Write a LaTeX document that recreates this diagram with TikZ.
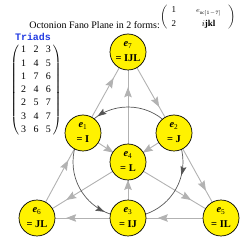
\documentclass[tikz,border=0pt]{standalone}
\usepackage{fontspec}
\setmainfont{Liberation Serif}
\setmonofont{Liberation Mono}
\usetikzlibrary{arrows.meta,decorations.markings,backgrounds}
\definecolor{edgegray}{RGB}{178,178,178}
\definecolor{ringgray}{RGB}{85,85,85}
\definecolor{triadblue}{RGB}{35,60,225}

\begin{document}
\begin{tikzpicture}[x=1bp,y=1bp,
  unit/.style={circle, draw=black, line width=0.7pt, fill=yellow,
    minimum size=36bp, inner sep=0pt, align=center,
    font=\bfseries\fontsize{10.5}{15}\selectfont},
  edge/.style={draw=edgegray, line width=0.9pt, postaction={decorate},
    decoration={markings, mark=at position 0.68 with
      {\arrow{Stealth[length=10bp,width=7.5bp,inset=1.5bp,color=edgegray]}}}},
  ringtip/.tip={Stealth[length=9bp,width=6bp,inset=1.5bp,color=ringgray]}]
  \useasboundingbox (0,0) rectangle (250,250);

  % Title
  \node[anchor=base east, inner sep=0pt] (title) at (160,222)
    {Octonion Fano Plane in 2 forms:};
  \node[anchor=west, inner sep=0pt] (forms) at (160,233)
    {\small\renewcommand\arraystretch{1.25}%
     $\bigg(\vcenter{\hbox{\begin{tabular}{@{\hspace{4bp}}l@{\hspace{20bp}}c@{\hspace{7bp}}}
       1 & {\scriptsize $e_{\mathrm{nc}[1-7]}$}\\
       2 & $i$\textbf{jkl}
     \end{tabular}}}\bigg)$};

  % Triads
  \node[font=\ttfamily\bfseries, text=triadblue, inner sep=0pt] (triads) at (33,213) {Triads};
  \node[inner sep=0pt] (tmat) at (36,160)
    {\renewcommand\arraystretch{1.11}\setlength\tabcolsep{3.7bp}%
     $\left(\begin{tabular}{@{\hspace{2bp}}ccc@{\hspace{2bp}}}
       1 & 2 & 3\\ 1 & 4 & 5\\ 1 & 7 & 6\\ 2 & 4 & 6\\
       2 & 5 & 7\\ 3 & 4 & 7\\ 3 & 6 & 5
     \end{tabular}\right)$};

  % Fano plane units
  \node[unit] (e7) at (128,198) {\textit{e}{\mdseries\textsubscript{7}}\\= IJL};
  \node[unit] (e1) at (83,117) {\textit{e}{\mdseries\textsubscript{1}}\\= I};
  \node[unit] (e2) at (174,117) {\textit{e}{\mdseries\textsubscript{2}}\\= J};
  \node[unit] (e4) at (128,88) {\textit{e}{\mdseries\textsubscript{4}}\\= L};
  \node[unit] (e6) at (37,32) {\textit{e}{\mdseries\textsubscript{6}}\\= JL};
  \node[unit] (e3) at (128,32) {\textit{e}{\mdseries\textsubscript{3}}\\= IJ};
  \node[unit] (e5) at (221,32) {\textit{e}{\mdseries\textsubscript{5}}\\= IL};

  \begin{pgfonlayer}{background}
    % Lines of the plane
    \draw[edge] (e6.center) -- (e1.center);
    \draw[edge] (e1.center) -- (e7.center);
    \draw[edge] (e7.center) -- (e2.center);
    \draw[edge] (e2.center) -- (e5.center);
    \draw[edge] (e5.center) -- (e3.center);
    \draw[edge] (e3.center) -- (e6.center);
    \draw[edge] (e3.center) -- (e4.center);
    \draw[edge] (e4.center) -- (e7.center);
    \draw[edge] (e1.center) -- (e4.center);
    \draw[edge] (e4.center) -- (e5.center);
    \draw[edge] (e2.center) -- (e4.center);
    \draw[edge] (e4.center) -- (e6.center);

    % Circle 1 2 3
    \draw[draw=ringgray, line width=0.7pt, postaction={decorate},
      decoration={markings,
        mark=at position 0.344 with {\arrow{ringtip}},
        mark=at position 0.68 with {\arrow{ringtip}},
        mark=at position 0.961 with {\arrowreversed{ringtip}}}]
      (e4.center) ++(0:55) arc[start angle=0, end angle=360, radius=55];
  \end{pgfonlayer}
\end{tikzpicture}
\end{document}
